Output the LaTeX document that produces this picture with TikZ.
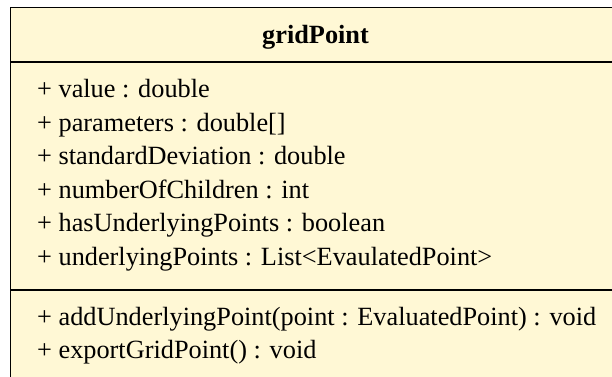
\documentclass[tikz,border=0pt]{standalone}
\usepackage{fontspec}
\setmainfont{Liberation Serif}
\usepackage{xcolor}
\usepackage{tikz}
\definecolor{classfill}{HTML}{FFF8D5}

\begin{document}
\begin{tikzpicture}[x=1pt,y=-1pt,
    member/.style={anchor=base west, inner sep=0pt, font=\fontsize{26.3}{30}\selectfont},
    title/.style={anchor=base, inner sep=0pt, font=\fontsize{26.3}{30}\selectfont\bfseries}]
    \useasboundingbox (0,0) rectangle (612,376);
    \clip (0,0) rectangle (612,376);
    \draw[line width=1.2pt, fill=classfill] (10.5,7.5) rectangle (640,400);
    \draw[line width=1.2pt] (10.5,62) -- (640,62);
    \draw[line width=1.2pt] (10.5,290) -- (640,290);

    \node[title] (name) at (315.5,43) {gridPoint};

    \node[member] (value) at (37,97.5) {+ value : double};
    \node[member] (params) at (37,131) {+ parameters : double[]};
    \node[member] (stddev) at (37,164.5) {+ standardDeviation : double};
    \node[member] (children) at (37,198) {+ numberOfChildren : int};
    \node[member] (hasunder) at (37,231.5) {+ hasUnderlyingPoints : boolean};
    \node[member] (under) at (37,265) {+ underlyingPoints : List<EvaulatedPoint>};

    \node[member] (addpoint) at (37,325.5) {+ addUnderlyingPoint(point : EvaluatedPoint) : void};
    \node[member] (export) at (37,358.5) {+ exportGridPoint() : void};
  \end{tikzpicture}
\end{document}
